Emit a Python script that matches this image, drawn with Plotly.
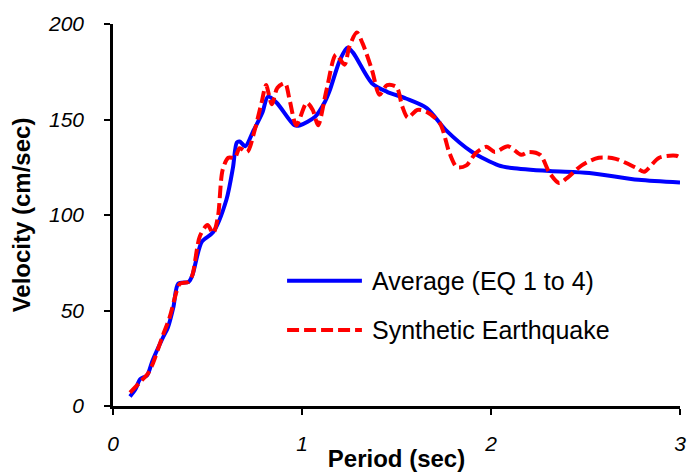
import plotly.graph_objects as go

# Average (EQ 1 to 4)
avg_period = [0.09, 0.12, 0.143, 0.18, 0.21, 0.265, 0.29, 0.32, 0.345, 0.40, 0.42, 0.47,
              0.53, 0.60, 0.635, 0.655, 0.67, 0.70, 0.74, 0.79, 0.82, 0.866, 0.96, 0.99,
              1.07, 1.12, 1.146, 1.20, 1.24, 1.27, 1.37, 1.45, 1.55, 1.66, 1.76, 1.90,
              2.04, 2.11, 2.31, 2.52, 2.78, 3.0]
avg_velocity = [5, 9, 14, 16, 24, 36, 41, 52, 64, 65, 68.5, 86,
                91, 108, 125, 138, 138.5, 136, 143.5, 153.5, 162, 158.8, 147, 147,
                151.5, 159, 165, 181, 187.6, 185, 169, 164.5, 161, 156, 144.6, 133,
                126, 124.6, 123, 122, 118.4, 117]

# Synthetic Earthquake
syn_period = [0.09, 0.153, 0.185, 0.21, 0.26, 0.30, 0.338, 0.354, 0.40, 0.42, 0.46, 0.50,
              0.53, 0.555, 0.58, 0.61, 0.645, 0.67, 0.71, 0.75, 0.786, 0.81, 0.84, 0.87,
              0.91, 0.935, 0.97, 1.025, 1.057, 1.085, 1.13, 1.18, 1.225, 1.25, 1.29, 1.32,
              1.37, 1.41, 1.45, 1.50, 1.53, 1.56, 1.61, 1.66, 1.73, 1.78, 1.82, 1.87,
              1.92, 1.975, 2.02, 2.09, 2.16, 2.20, 2.26, 2.31, 2.36, 2.41, 2.48, 2.57,
              2.66, 2.77, 2.81, 2.89, 2.98, 3.0]
syn_velocity = [7, 13.5, 17, 22, 36, 46.5, 60.5, 64, 65, 68.5, 89, 94.7,
                90.5, 99, 123.6, 130, 130, 135, 133, 144.6, 158.8, 168, 158, 166.6,
                169, 160, 147, 158.8, 155, 147, 165.6, 184, 178.7, 188, 195.5, 190,
                176, 163, 168, 167, 157, 151, 155, 154, 148, 132.5, 125, 126,
                132.5, 135.7, 133, 136, 131.5, 133, 131.5, 122, 116.8, 120, 126, 130,
                129.4, 124.6, 122.6, 130, 131, 130]

x_ticks = [0, 1, 2, 3]
y_ticks = [0, 50, 100, 150, 200]
series_names = ["Average (EQ 1 to 4)", "Synthetic Earthquake"]

FONT = "Liberation Sans, Arial, sans-serif"
BLUE = "#0000FF"
RED = "#FF0000"

fig = go.Figure()
fig.add_trace(go.Scatter(x=avg_period, y=avg_velocity, mode="lines", name=series_names[0],
                         line=dict(color=BLUE, width=4, shape="spline", smoothing=0.8),
                         showlegend=False))
fig.add_trace(go.Scatter(x=syn_period, y=syn_velocity, mode="lines", name=series_names[1],
                         line=dict(color=RED, width=4, dash="12px,5px", shape="spline", smoothing=0.8),
                         showlegend=False))

# manual legend (sample lines + labels)
leg_x0, leg_x1, leg_tx = 0.307, 0.439, 0.453
leg_rows = [0.328, 0.199]
fig.add_shape(type="line", xref="paper", yref="paper", x0=leg_x0, x1=leg_x1,
              y0=leg_rows[0], y1=leg_rows[0], line=dict(color=BLUE, width=4))
fig.add_shape(type="line", xref="paper", yref="paper", x0=leg_x0, x1=leg_x1,
              y0=leg_rows[1], y1=leg_rows[1], line=dict(color=RED, width=4, dash="12px,5px"))
for name, yy in zip(series_names, leg_rows):
    fig.add_annotation(text=name, xref="paper", yref="paper", x=leg_tx, y=yy,
                       xanchor="left", yanchor="middle", showarrow=False,
                       font=dict(family=FONT, size=25, color="black"))

fig.update_layout(
    width=689, height=472,
    margin=dict(l=113, r=9, t=24, b=66),
    paper_bgcolor="white", plot_bgcolor="white",
    showlegend=False,
)
fig.update_xaxes(
    range=[0, 3], tickvals=x_ticks, ticktext=[str(v) for v in x_ticks],
    automargin=False,
    showgrid=False, zeroline=False, showline=True, linecolor="black", linewidth=2.5,
    ticks="outside", ticklen=6, tickwidth=2, tickcolor="black",
    ticklabelstandoff=11,
    tickfont=dict(family=FONT, size=21, color="black", style="italic"),
    title=dict(text="Period (sec)", standoff=9,
               font=dict(family=FONT, size=24, color="black", weight="bold")),
)
fig.update_yaxes(
    range=[0, 200], tickvals=y_ticks, ticktext=[str(v) for v in y_ticks],
    automargin=False,
    showgrid=False, zeroline=False, showline=True, linecolor="black", linewidth=2.5,
    ticks="outside", ticklen=6, tickwidth=2, tickcolor="black",
    ticklabelstandoff=16,
    tickfont=dict(family=FONT, size=21, color="black", style="italic"),
    title=dict(text="Velocity (cm/sec)", standoff=11,
               font=dict(family=FONT, size=24, color="black", weight="bold")),
)

fig.write_html("out.html")
